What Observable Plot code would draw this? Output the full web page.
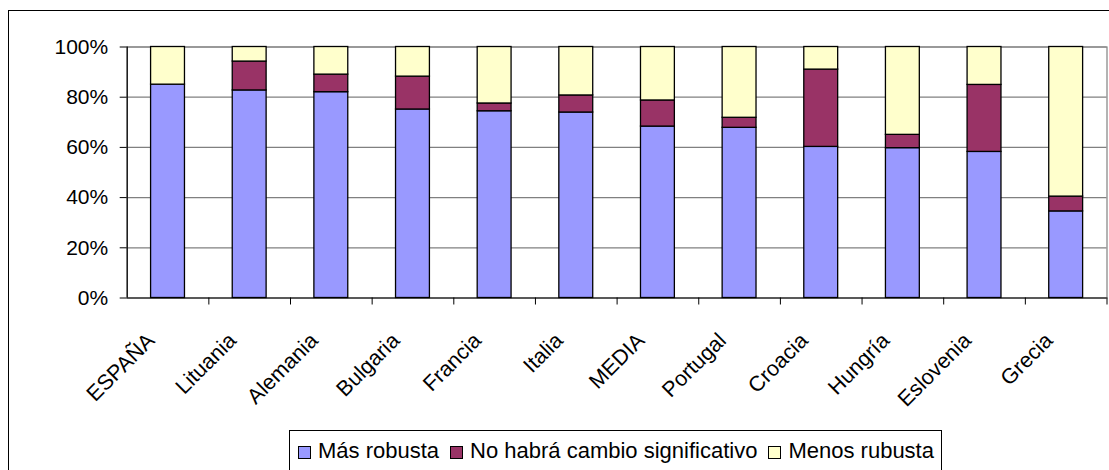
<!DOCTYPE html>
<html>
<head>
<meta charset="utf-8">
<script src="https://cdn.jsdelivr.net/npm/d3@7"></script>
<script src="https://cdn.jsdelivr.net/npm/@observablehq/plot@0.6"></script>
<style>
  html, body { margin: 0; padding: 0; background: #fff; }
  body { width: 1109px; height: 470px; position: relative; overflow: hidden; font-family: "Liberation Sans", Arial, sans-serif; }
  #frame { position: absolute; left: 8px; top: 10px; width: 1200px; height: 600px; border: 1px solid #000; box-sizing: border-box; }
  #chart { position: absolute; left: 0; top: 0; }
  #legend { position: absolute; left: 289px; top: 430px; width: 653px; height: 42px; border: 1px solid #000; box-sizing: border-box;
            display: flex; align-items: center; padding-left: 8px; font-size: 22px; color: #000; white-space: nowrap; }
  .item { display: flex; align-items: center; margin-right: 11px; }
  .sw { width: 11px; height: 11px; border: 1px solid #000; margin-right: 7px; margin-top: 3px; }
</style>
</head>
<body>
<div id="frame"></div>
<div id="chart"></div>
<div id="legend"></div>
<script>
const paises = ["ESPAÑA", "Lituania", "Alemania", "Bulgaria", "Francia", "Italia", "MEDIA", "Portugal", "Croacia", "Hungría", "Eslovenia", "Grecia"];
const series = ["Más robusta", "No habrá cambio significativo", "Menos rubusta"];
const colores = ["#9999FF", "#993366", "#FFFFCC"];
const masRobusta   = [85.0, 82.7, 82.0, 75.1, 74.4, 73.9, 68.3, 67.8, 60.2, 59.7, 58.2, 34.5];
const sinCambio    = [0.0, 11.5, 7.0, 13.1, 3.1, 6.8, 10.4, 4.0, 30.8, 5.3, 26.7, 5.9];
const menosRobusta = [15.0, 5.8, 11.0, 11.8, 22.5, 19.3, 21.3, 28.2, 9.0, 35.0, 15.1, 59.6];
const yTicks = [0, 20, 40, 60, 80, 100];

const valores = [masRobusta, sinCambio, menosRobusta];
const data = [];
paises.forEach((p, i) => series.forEach((s, j) => data.push({pais: p, serie: s, valor: valores[j][i]})));

const W = 1109, H = 420;
const mL = 126.7, mR = 2.5, mT = 46.5, mB = H - 297.5;
const step = (W - mL - mR) / paises.length;
const font = "Liberation Sans, Arial, sans-serif";

const chart = Plot.plot({
  width: W, height: H,
  marginLeft: mL, marginRight: mR, marginTop: mT, marginBottom: mB,
  style: {fontFamily: font, background: "transparent", overflow: "visible"},
  x: {domain: paises, paddingInner: 0.585, paddingOuter: 0.2925, round: false, axis: null},
  y: {domain: [0, 100], axis: null},
  color: {domain: series, range: colores},
  marks: [
    Plot.frame({stroke: "#808080", strokeWidth: 1.2}),
    Plot.gridY(yTicks.filter(d => d > 0), {stroke: "#808080", strokeOpacity: 1, strokeWidth: 1.2}),
    Plot.barY(data, {x: "pais", y: "valor", fill: "serie", order: series, stroke: "#000", strokeWidth: 1.3, inset: 0}),
    Plot.ruleY([0], {stroke: "#000", strokeWidth: 1.2}),
    Plot.ruleX([paises[0]], {dx: -step / 2, stroke: "#000", strokeWidth: 1.2}),
    Plot.axisY({ticks: yTicks, label: null, tickFormat: d => d + "%", tickSize: 7, tickPadding: 12, fontSize: 21, stroke: "#000", fill: "#000"}),
    Plot.axisX({ticks: paises, label: null, tickSize: 7, dx: step / 2, tickFormat: () => null, stroke: "#000"}),
    Plot.text(paises, {x: d => d, text: d => d, frameAnchor: "bottom", rotate: -45, textAnchor: "end", lineAnchor: "middle", dx: -17, dy: 39, fontSize: 21.5, fill: "#000"})
  ]
});
document.getElementById("chart").appendChild(chart);

const legend = document.getElementById("legend");
series.forEach((s, i) => {
  const it = document.createElement("div");
  it.className = "item";
  const sw = document.createElement("div");
  sw.className = "sw";
  sw.style.background = colores[i];
  const tx = document.createElement("span");
  tx.textContent = s;
  it.appendChild(sw); it.appendChild(tx);
  legend.appendChild(it);
});
</script>
</body>
</html>
